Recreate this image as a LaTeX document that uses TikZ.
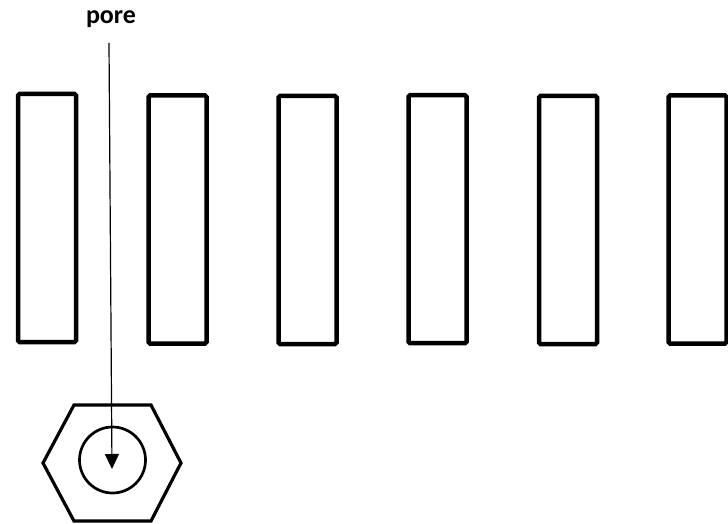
\documentclass[tikz,border=0pt]{standalone}
\usepackage{fontspec}
\setmainfont{Carlito}
\usetikzlibrary{arrows.meta}
\begin{document}
\begin{tikzpicture}[x=1pt,y=-1pt,
  slab/.style={draw=black, line width=4.5pt, rounded corners=1.5pt,
    minimum width=58pt, minimum height=248pt, inner sep=0pt, outer sep=0pt},
  poretext/.style={font=\fontsize{26}{30}\selectfont\bfseries, inner sep=0pt},
  pointer/.style={line width=1.2pt, -{Triangle[length=15pt,width=14pt]}},
  cellwall/.style={line width=3.2pt, line join=miter},
  porering/.style={line width=2.7pt}]
  \useasboundingbox (0,0) rectangle (728,524);

  % row of slabs
  \node[slab] (s1) at (47,218) {};
  \node[slab] (s2) at (177.5,219.5) {};
  \node[slab] (s3) at (307.5,220) {};
  \node[slab] (s4) at (437.5,219.2) {};
  \node[slab] (s5) at (568,220) {};
  \node[slab] (s6) at (697.5,219.5) {};

  % hexagonal cell with the pore inside
  \draw[cellwall] (74,405) -- (151,405) -- (181,463) -- (151,521) -- (74,521) -- (43,463) -- cycle;
  \node[draw, circle, porering, minimum size=66pt, inner sep=0pt] (ring) at (112.5,460) {};

  % label and pointer
  \node[poretext, anchor=base] (lbl) at (111,24) {pore};
  \coordinate (pstart) at (109,43);
  \coordinate (ptip) at (112,469);
  \draw[pointer] (pstart) -- (ptip);
\end{tikzpicture}
\end{document}
